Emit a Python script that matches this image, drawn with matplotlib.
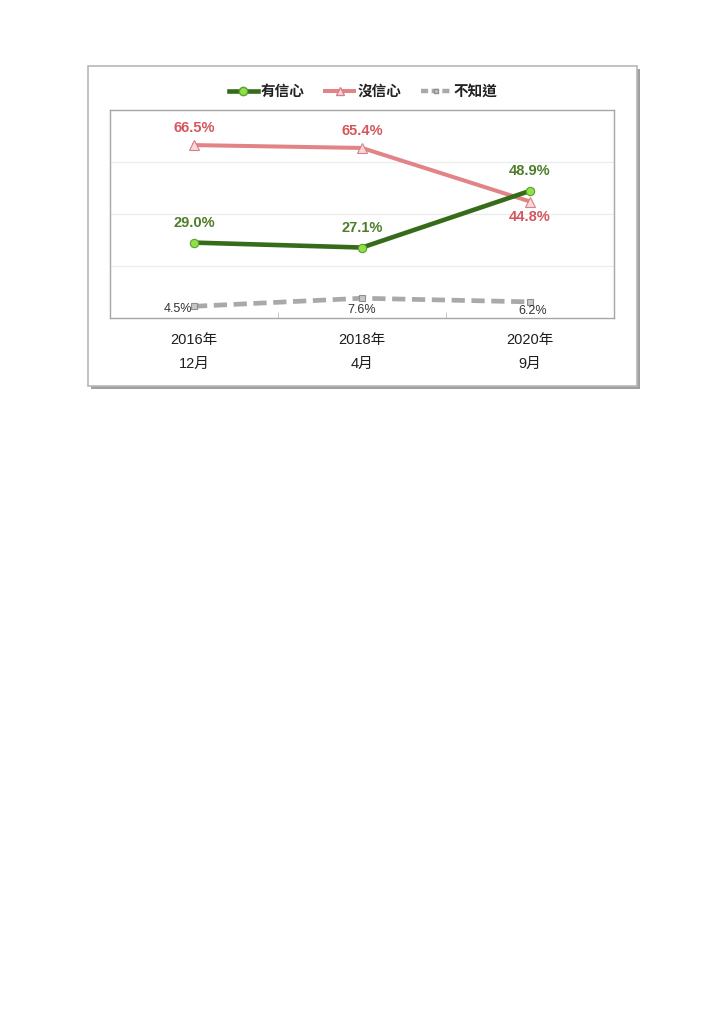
import matplotlib
matplotlib.use("Agg")
import matplotlib.pyplot as plt
from matplotlib.patches import Rectangle
from matplotlib.lines import Line2D

plt.rcParams['font.family'] = ['Liberation Sans', 'Noto Sans CJK TC', 'DejaVu Sans']

# survey waves and shares (%)
periods = ["2016年\n12月", "2018年\n4月", "2020年\n9月"]
confident = [29.0, 27.1, 48.9]
not_confident = [66.5, 65.4, 44.8]
unknown = [4.5, 7.6, 6.2]
series_names = ["有信心", "沒信心", "不知道"]

W, H = 724, 1024
fig = plt.figure(figsize=(W / 100, H / 100), dpi=100)

# outer frame with a soft drop shadow
bx0, by0, bx1, by1 = 88, 66, 637, 386
fig.patches.append(Rectangle(((bx0 + 3) / W, 1 - (by1 + 3) / H), (bx1 - bx0) / W, (by1 - by0) / H,
                             transform=fig.transFigure, facecolor="#a0a0a0", edgecolor="none", zorder=0))
fig.patches.append(Rectangle((bx0 / W, 1 - by1 / H), (bx1 - bx0) / W, (by1 - by0) / H,
                             transform=fig.transFigure, facecolor="white", edgecolor="#b8b8b8",
                             linewidth=1.2, zorder=1))

ax = fig.add_axes([110 / W, 1 - 318 / H, (614 - 110) / W, (318 - 110) / H])
ax.set_zorder(2)
x = list(range(len(periods)))

green_line, green_mk = "#356b19", "#8fe04a"
pink_line = "#e28387"
gray_line = "#a9a9a9"

ax.plot(x, confident, color=green_line, linewidth=3.3, marker="o", markersize=6,
        markerfacecolor=green_mk, markeredgecolor="#5aa02c", markeredgewidth=0.8, zorder=4,
        solid_capstyle="round")
ax.plot(x, not_confident, color=pink_line, linewidth=2.9, marker="^", markersize=7,
        markerfacecolor="#f8d8d8", markeredgecolor="#d88088", markeredgewidth=0.8, zorder=3)
ax.plot(x, unknown, color=gray_line, linewidth=3.4, linestyle=(0, (2.8, 1.4)), marker="s", markersize=4,
        markerfacecolor="#c8c8c8", markeredgecolor="#8f8f8f", markeredgewidth=0.8, zorder=3)

ax.set_xlim(-0.5, 2.5)
ax.set_ylim(0, 80)
ax.set_yticks([20, 40, 60])
ax.yaxis.grid(True, color="#ececec", linewidth=0.9)
ax.set_axisbelow(True)
ax.tick_params(axis="y", left=False, labelleft=False)
ax.set_xticks(x)
ax.set_xticklabels(periods, fontsize=10.5, color="#1e1e1e", linespacing=1.9)
ax.tick_params(axis="x", length=0, pad=11)
ax.set_xticks([0.5, 1.5], minor=True)
ax.tick_params(axis="x", which="minor", length=4, color="#bbbbbb", direction="in")
for s in ax.spines.values():
    s.set_color("#a6a6a6")
    s.set_linewidth(1.0)

lab_green = "#4e7d2a"
lab_red = "#d4575b"
lab_gray = "#333333"

# value labels
for i, v in enumerate(confident):
    ax.annotate(f"{v:.1f}%", (i, v), xytext=(0, 9), textcoords="offset points",
                ha="center", va="bottom", fontsize=10.5, fontweight="bold", color=lab_green)
for i, v in enumerate(not_confident):
    if i == 2:
        ax.annotate(f"{v:.1f}%", (i, v), xytext=(0, -6), textcoords="offset points",
                    ha="center", va="top", fontsize=10.5, fontweight="bold", color=lab_red)
    else:
        ax.annotate(f"{v:.1f}%", (i, v), xytext=(0, 7), textcoords="offset points",
                    ha="center", va="bottom", fontsize=10.5, fontweight="bold", color=lab_red)
# first label sits to the left of its marker, the others just below
ax.annotate(f"{unknown[0]:.1f}%", (0, unknown[0]), xytext=(-1, -2), textcoords="offset points",
            ha="right", va="center", fontsize=9, color=lab_gray)
ax.annotate(f"{unknown[1]:.1f}%", (1, unknown[1]), xytext=(0, -4), textcoords="offset points",
            ha="center", va="top", fontsize=9, color=lab_gray)
ax.annotate(f"{unknown[2]:.1f}%", (2, unknown[2]), xytext=(2, -2), textcoords="offset points",
            ha="center", va="top", fontsize=9, color=lab_gray)

handles = [
    Line2D([], [], color=green_line, linewidth=3.3, marker="o", markersize=6,
           markerfacecolor=green_mk, markeredgecolor="#5aa02c"),
    Line2D([], [], color=pink_line, linewidth=2.9, marker="^", markersize=6,
           markerfacecolor="#f8d8d8", markeredgecolor="#d88088"),
    Line2D([], [], color=gray_line, linewidth=3.2, linestyle=(0, (1.6, 0.8)), marker="s", markersize=3.5,
           markerfacecolor="#c8c8c8", markeredgecolor="#8f8f8f"),
]
leg = fig.legend(handles, series_names, loc="center", bbox_to_anchor=(363 / W, 1 - 92 / H),
                 ncol=3, frameon=False, handlelength=2.0, handletextpad=0.2,
                 columnspacing=1.4, prop={"size": 10.5, "weight": "bold"})
for t in leg.get_texts():
    t.set_color("#222222")
leg.set_zorder(5)

fig.savefig("out.png", dpi=100)
